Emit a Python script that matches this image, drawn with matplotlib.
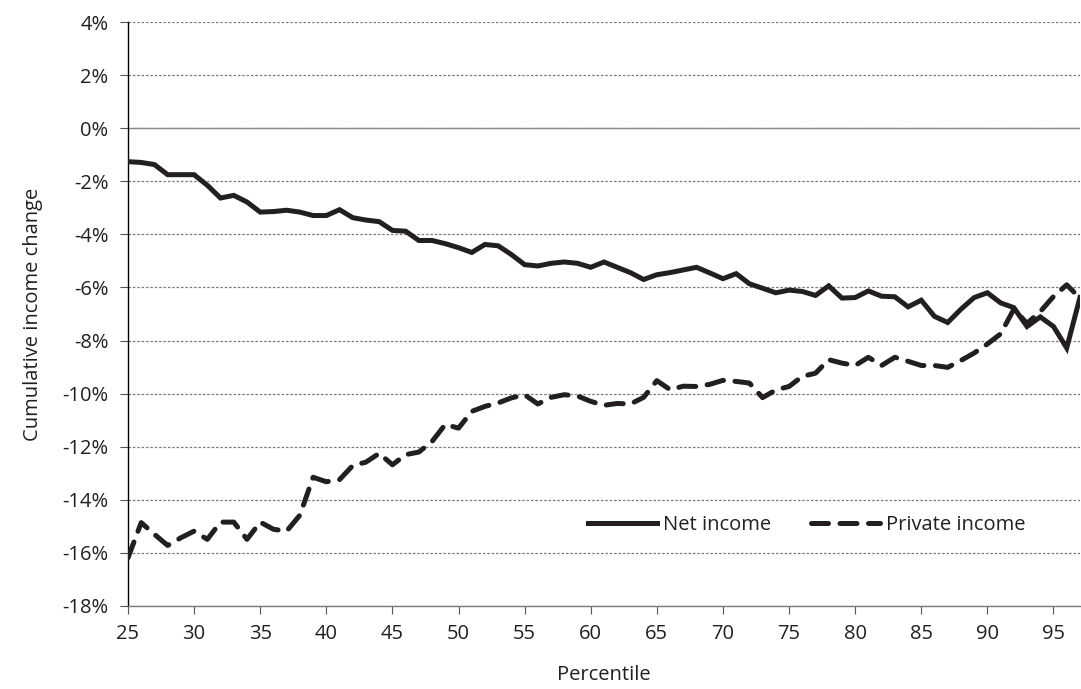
import matplotlib
matplotlib.use("Agg")
import matplotlib.pyplot as plt
from matplotlib.ticker import FuncFormatter

plt.rcParams['font.family'] = ['Open Sans', 'DejaVu Sans']

percentile = list(range(25, 98))

net_income = [
    -1.26, -1.29, -1.37, -1.75, -1.75, -1.75, -2.15, -2.63, -2.53, -2.78,
    -3.16, -3.14, -3.09, -3.16, -3.29, -3.29, -3.07, -3.37, -3.46, -3.52,
    -3.85, -3.88, -4.23, -4.23, -4.35, -4.50, -4.68, -4.38, -4.43, -4.76,
    -5.14, -5.19, -5.09, -5.04, -5.09, -5.24, -5.04, -5.24, -5.44, -5.70,
    -5.52, -5.44, -5.34, -5.24, -5.45, -5.67, -5.48, -5.86, -6.03, -6.20,
    -6.10, -6.15, -6.30, -5.94, -6.40, -6.38, -6.13, -6.33, -6.35, -6.73,
    -6.48, -7.09, -7.32, -6.82, -6.38, -6.20, -6.58, -6.76, -7.47, -7.11,
    -7.47, -8.28, -6.38,
]

private_income = [
    -16.19, -14.86, -15.30, -15.72, -15.43, -15.18, -15.49, -14.84, -14.84, -15.49,
    -14.84, -15.11, -15.18, -14.58, -13.15, -13.32, -13.24, -12.71, -12.58, -12.25,
    -12.68, -12.30, -12.20, -11.80, -11.16, -11.30, -10.67, -10.48, -10.35, -10.16,
    -10.04, -10.39, -10.14, -10.04, -10.09, -10.29, -10.44, -10.37, -10.39, -10.14,
    -9.51, -9.85, -9.72, -9.73, -9.65, -9.50, -9.54, -9.60, -10.15, -9.86,
    -9.73, -9.35, -9.23, -8.72, -8.85, -8.94, -8.63, -8.94, -8.63, -8.78,
    -8.94, -8.94, -9.01, -8.75, -8.47, -8.13, -7.75, -6.82, -7.35, -6.91,
    -6.34, -5.90, -6.40,
]

series_labels = ["Net income", "Private income"]
x_ticks = list(range(25, 96, 5))
y_ticks = list(range(-18, 5, 2))

line_color = "#231f20"
fs = 14.5

fig = plt.figure(figsize=(10.81, 6.89), dpi=100)
ax = fig.add_axes([0.1184, 0.1205, 0.8806, 0.8475])

for yt in y_ticks:
    ax.axhline(yt, color="#7a7a7a", lw=0.9, ls=(0, (2, 1.5)), zorder=1)
ax.axhline(0, color="#8c8c8c", lw=1.0, zorder=1)

ax.plot(percentile, net_income, color=line_color, lw=3.6,
        solid_joinstyle="miter", label=series_labels[0], zorder=3)
ax.plot(percentile, private_income, color=line_color, lw=3.6,
        ls=(0, (3.4, 2.3)), dash_capstyle="round",
        label=series_labels[1], zorder=3)

ax.set_xlim(25, 97)
ax.set_ylim(-18, 4)
ax.set_xticks(x_ticks)
ax.set_yticks(y_ticks)
ax.yaxis.set_major_formatter(FuncFormatter(lambda v, p: f"{int(v)}%"))

for side in ["top", "right"]:
    ax.spines[side].set_visible(False)
ax.spines["left"].set_color("black")
ax.spines["left"].set_linewidth(1.0)
ax.spines["bottom"].set_color("#7a7a7a")
ax.spines["bottom"].set_linewidth(1.0)

ax.tick_params(axis="y", direction="out", length=6, width=0.8, color="#555555",
               labelsize=fs, pad=8, labelcolor="#231f20")
ax.tick_params(axis="x", direction="out", length=6, width=0.8, color="#555555",
               labelsize=fs, pad=7, labelcolor="#231f20")

ax.set_ylabel("Cumulative income change", fontsize=fs, color="#231f20", labelpad=14)
ax.set_xlabel("Percentile", fontsize=fs, color="#231f20", labelpad=15)

leg = ax.legend(loc="center", bbox_to_anchor=(0.713, 0.139), ncol=2, frameon=False,
                fontsize=fs, handlelength=3.4, handletextpad=0.3,
                columnspacing=2.0)
for t in leg.get_texts():
    t.set_color("#231f20")

fig.savefig("out.png", dpi=100)
